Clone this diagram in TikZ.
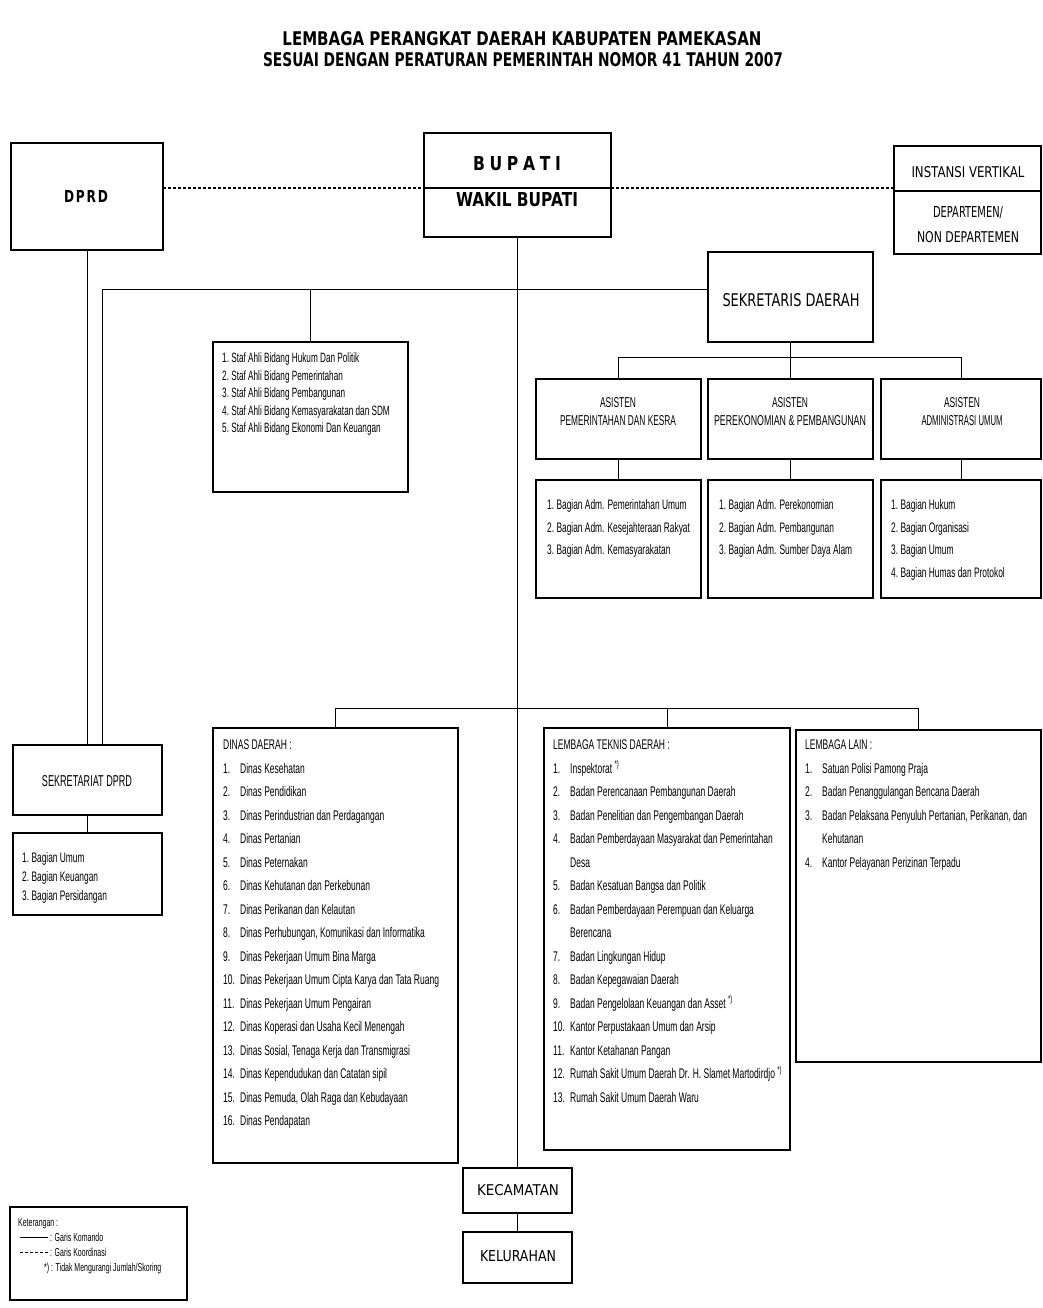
\documentclass[tikz,border=0pt]{standalone}
\usepackage{fontspec}
\usepackage{graphicx}
\setmainfont{Liberation Sans}
\newfontfamily\nar[FakeStretch=0.607]{Liberation Sans}
\newfontfamily\tah{DejaVu Sans}
\newcommand\fitlab[3]{\resizebox{#1pt}{#2pt}{#3}}
\begin{document}
\begin{tikzpicture}[x=1pt,y=-1pt,
  box/.style={draw, line width=2pt, inner sep=0pt, outer sep=0pt},
  conn/.style={line width=0.9pt},
  coordline/.style={line width=2pt, dash pattern=on 3pt off 2pt},
  lbl/.style={inner sep=0pt, outer sep=0pt},
  lst/.style={anchor=base west, inner sep=0pt, font=\nar\fontsize{14pt}{16pt}\selectfont},
  lsts/.style={anchor=base west, inner sep=0pt, font=\nar\fontsize{13.5pt}{15pt}\selectfont},
  lstm/.style={anchor=base west, inner sep=0pt, font=\nar\fontsize{13.8pt}{15pt}\selectfont},
  leg/.style={anchor=base west, inner sep=0pt, font=\nar\fontsize{11.5pt}{12pt}\selectfont}]
\fill[white] (0,0) rectangle (1043,1308);
\useasboundingbox (0,0) rectangle (1043,1308);

% title
\node[lbl] (t1) at (522,39) {\fitlab{479}{14}{\tah\bfseries LEMBAGA PERANGKAT DAERAH KABUPATEN PAMEKASAN}};
\node[lbl] (t2) at (523,60) {\fitlab{520}{14}{\tah\bfseries SESUAI DENGAN PERATURAN PEMERINTAH NOMOR 41 TAHUN 2007}};

% boxes
\node[box, minimum width=152pt, minimum height=107pt] (dprd) at (87,196.5) {};
\node[box, minimum width=187pt, minimum height=104pt] (bupati) at (517.5,185) {};
\node[box, minimum width=147pt, minimum height=108pt] (instansi) at (967.5,200) {};
\node[box, minimum width=165pt, minimum height=90pt] (sekda) at (790.5,297) {};
\node[box, minimum width=195pt, minimum height=150pt] (stafahli) at (310,417) {};
\node[box, minimum width=165pt, minimum height=80pt] (asisten1) at (618.5,419) {};
\node[box, minimum width=165pt, minimum height=80pt] (asisten2) at (790.5,419) {};
\node[box, minimum width=160pt, minimum height=80pt] (asisten3) at (961,419) {};
\node[box, minimum width=165pt, minimum height=118pt] (bag1) at (618.5,539) {};
\node[box, minimum width=165pt, minimum height=118pt] (bag2) at (790.5,539) {};
\node[box, minimum width=160pt, minimum height=118pt] (bag3) at (961,539) {};
\node[box, minimum width=245pt, minimum height=435pt] (dinas) at (335.5,945.5) {};
\node[box, minimum width=246pt, minimum height=422pt] (ltd) at (667,939) {};
\node[box, minimum width=245pt, minimum height=332pt] (lain) at (918.5,896) {};
\node[box, minimum width=149pt, minimum height=70pt] (sekdprd) at (87,780) {};
\node[box, minimum width=149pt, minimum height=82pt] (sekdlist) at (87,874) {};
\node[box, minimum width=109pt, minimum height=45pt] (kec) at (517.5,1190.5) {};
\node[box, minimum width=109pt, minimum height=51pt] (kel) at (517.5,1257.5) {};
\node[box, minimum width=177pt, minimum height=93pt] (legend) at (98.5,1253.5) {};

% dividers
\coordinate (dot) at (517.5,188);
\draw[line width=1.6pt] (bupati.west |- dot) -- (bupati.east |- dot);
\draw[line width=1.6pt] ([yshift=9pt]instansi.west) -- ([yshift=9pt]instansi.east);

% box labels
\node[lbl] (ldprd) at (86,196) {\fitlab{44}{12}{\tah\bfseries D\kern1.5pt P\kern1.5pt R\kern1.5pt D}};
\node[lbl] (lbup) at (517,164) {\fitlab{88}{14}{\tah\bfseries B\kern3pt U\kern3pt P\kern3pt A\kern3pt T\kern3pt I}};
\node[lbl] (lwak) at (517,200) {\fitlab{122}{14}{\tah\bfseries WAKIL BUPATI}};
\node[lbl] (lins1) at (968,172) {\fitlab{113}{11}{\tah INSTANSI VERTIKAL}};
\node[lbl] (lins2) at (968,213) {\fitlab{70}{11}{\tah DEPARTEMEN/}};
\node[lbl] (lins3) at (968,237) {\fitlab{102}{11}{\tah NON DEPARTEMEN}};
\node[lbl] (lsekda) at (791,300) {\fitlab{137}{13}{\tah SEKRETARIS DAERAH}};
\node[lbl] (las1a) at (618,403) {\fitlab{36}{10}{\nar ASISTEN}};
\node[lbl] (las1b) at (618,421) {\fitlab{116}{10}{\nar PEMERINTAHAN DAN KESRA}};
\node[lbl] (las2a) at (790,403) {\fitlab{36}{10}{\nar ASISTEN}};
\node[lbl] (las2b) at (790,421) {\fitlab{152}{10}{\nar PEREKONOMIAN \& PEMBANGUNAN}};
\node[lbl] (las3a) at (962,403) {\fitlab{36}{10}{\nar ASISTEN}};
\node[lbl] (las3b) at (962,421) {\fitlab{81}{10}{\nar ADMINISTRASI UMUM}};
\node[lbl] (lsekdprd) at (87,781) {\fitlab{90}{11}{\nar SEKRETARIAT DPRD}};
\node[lbl] (lkec) at (518,1190) {\fitlab{82}{11}{\tah KECAMATAN}};
\node[lbl] (lkel) at (518,1256) {\fitlab{76}{11}{\tah KELURAHAN}};

% staf ahli list
\foreach \t [count=\i] in {Staf Ahli Bidang Hukum Dan Politik, Staf Ahli Bidang Pemerintahan, Staf Ahli Bidang Pembangunan, Staf Ahli Bidang Kemasyarakatan dan SDM, Staf Ahli Bidang Ekonomi Dan Keuangan}
  \node[lsts] (sa\i) at (222,{362.5+(\i-1)*17.5}) {\i.\ \t};

% asisten lists
\foreach \t [count=\i] in {Bagian Adm. Pemerintahan Umum, Bagian Adm. Kesejahteraan Rakyat, Bagian Adm. Kemasyarakatan}
  \node[lstm] (ba\i) at (547,{509.5+(\i-1)*22.5}) {\i.\ \t};
\foreach \t [count=\i] in {Bagian Adm. Perekonomian, Bagian Adm. Pembangunan, Bagian Adm. Sumber Daya Alam}
  \node[lstm] (bb\i) at (719,{509.5+(\i-1)*22.5}) {\i.\ \t};
\foreach \t [count=\i] in {Bagian Hukum, Bagian Organisasi, Bagian Umum, Bagian Humas dan Protokol}
  \node[lstm] (bc\i) at (891,{509.5+(\i-1)*22.5}) {\i.\ \t};

% sekretariat dprd list
\foreach \t [count=\i] in {Bagian Umum, Bagian Keuangan, Bagian Persidangan}
  \node[lstm] (sd\i) at (22,{862.5+(\i-1)*19}) {\i.\ \t};

% dinas daerah
\node[lst] (dh) at (223,749.5) {DINAS DAERAH :};
\foreach \t [count=\i] in {Dinas Kesehatan, Dinas Pendidikan, Dinas Perindustrian dan Perdagangan, Dinas Pertanian, Dinas Peternakan, Dinas Kehutanan dan Perkebunan, Dinas Perikanan dan Kelautan, {Dinas Perhubungan, Komunikasi dan Informatika}, Dinas Pekerjaan Umum Bina Marga, Dinas Pekerjaan Umum Cipta Karya dan Tata Ruang, Dinas Pekerjaan Umum Pengairan, Dinas Koperasi dan Usaha Kecil Menengah, {Dinas Sosial, Tenaga Kerja dan Transmigrasi}, Dinas Kependudukan dan Catatan sipil, {Dinas Pemuda, Olah Raga dan Kebudayaan}, Dinas Pendapatan}
  {\node[lst] (dn\i) at (223,{749.5+\i*23.5}) {\i.};
   \node[lst] (dt\i) at (240,{749.5+\i*23.5}) {\t};}

% lembaga teknis daerah
\node[lst] (lh) at (553,749.5) {LEMBAGA TEKNIS DAERAH :};
\foreach \r/\n/\t in {1/1/{Inspektorat \textsuperscript{*)}}, 2/2/Badan Perencanaan Pembangunan Daerah, 3/3/Badan Penelitian dan Pengembangan Daerah, 4/4/Badan Pemberdayaan Masyarakat dan Pemerintahan, 6/5/Badan Kesatuan Bangsa dan Politik, 7/6/Badan Pemberdayaan Perempuan dan Keluarga, 9/7/Badan Lingkungan Hidup, 10/8/Badan Kepegawaian Daerah, 11/9/{Badan Pengelolaan Keuangan dan Asset \textsuperscript{*)}}, 12/10/Kantor Perpustakaan Umum dan Arsip, 13/11/Kantor Ketahanan Pangan, 14/12/{Rumah Sakit Umum Daerah Dr. H. Slamet Martodirdjo \textsuperscript{*)}}, 15/13/Rumah Sakit Umum Daerah Waru}
  {\node[lst] (ln\n) at (553,{749.5+\r*23.5}) {\n.};
   \node[lst] (lt\n) at (570,{749.5+\r*23.5}) {\t};}
\node[lst] (lt4b) at (570,{749.5+5*23.5}) {Desa};
\node[lst] (lt6b) at (570,{749.5+8*23.5}) {Berencana};

% lembaga lain
\node[lst] (oh) at (805,749.5) {LEMBAGA LAIN :};
\foreach \r/\n/\t in {1/1/Satuan Polisi Pamong Praja, 2/2/Badan Penanggulangan Bencana Daerah, 3/3/{Badan Pelaksana Penyuluh Pertanian, Perikanan, dan}, 5/4/Kantor Pelayanan Perizinan Terpadu}
  {\node[lst] (on\n) at (805,{749.5+\r*23.5}) {\n.};
   \node[lst] (ot\n) at (822,{749.5+\r*23.5}) {\t};}
\node[lst] (ot3b) at (822,{749.5+4*23.5}) {Kehutanan};

% legend
\node[leg] (k0) at (18,1226) {Keterangan :};
\draw[line width=0.8pt] (20,1237) -- (48,1237);
\node[leg] (k1) at (50,1241) {: Garis Komando};
\draw[line width=0.8pt, dash pattern=on 3pt off 2pt] (20,1252) -- (48,1252);
\node[leg] (k2) at (50,1256) {: Garis Koordinasi};
\node[leg] (k3) at (44,1271) {*) : Tidak Mengurangi Jumlah/Skoring};

% connectors
\coordinate (cmd) at ([yshift=8pt]sekda.west);
\coordinate (abus) at (790.5,357);
\coordinate (dbus) at (517.5,708);
\draw[coordline] (dprd.east |- dot) -- (bupati.west |- dot);
\draw[coordline] (bupati.east |- dot) -- (instansi.west |- dot);
\draw[conn] (bupati.south) -- (kec.north);
\draw[conn] (kec.south) -- (kel.north);
\draw[conn] (cmd) -| ([xshift=15pt]sekdprd.north);
\draw[conn] (stafahli.north) -- (stafahli.north |- cmd);
\draw[conn] (dprd.south) -- (sekdprd.north);
\draw[conn] (sekdprd.south) -- (sekdlist.north);
\draw[conn] (sekda.south) -- (abus);
\draw[conn] (asisten1.north |- abus) -- (asisten3.north |- abus);
\foreach \k in {1,2,3}{
  \draw[conn] (asisten\k.north) -- (asisten\k.north |- abus);
  \draw[conn] (asisten\k.south) -- (bag\k.north);
}
\draw[conn] (dinas.north |- dbus) -- (lain.north |- dbus);
\draw[conn] (dinas.north) -- (dinas.north |- dbus);
\draw[conn] (ltd.north) -- (ltd.north |- dbus);
\draw[conn] (lain.north) -- (lain.north |- dbus);
\end{tikzpicture}
\end{document}
